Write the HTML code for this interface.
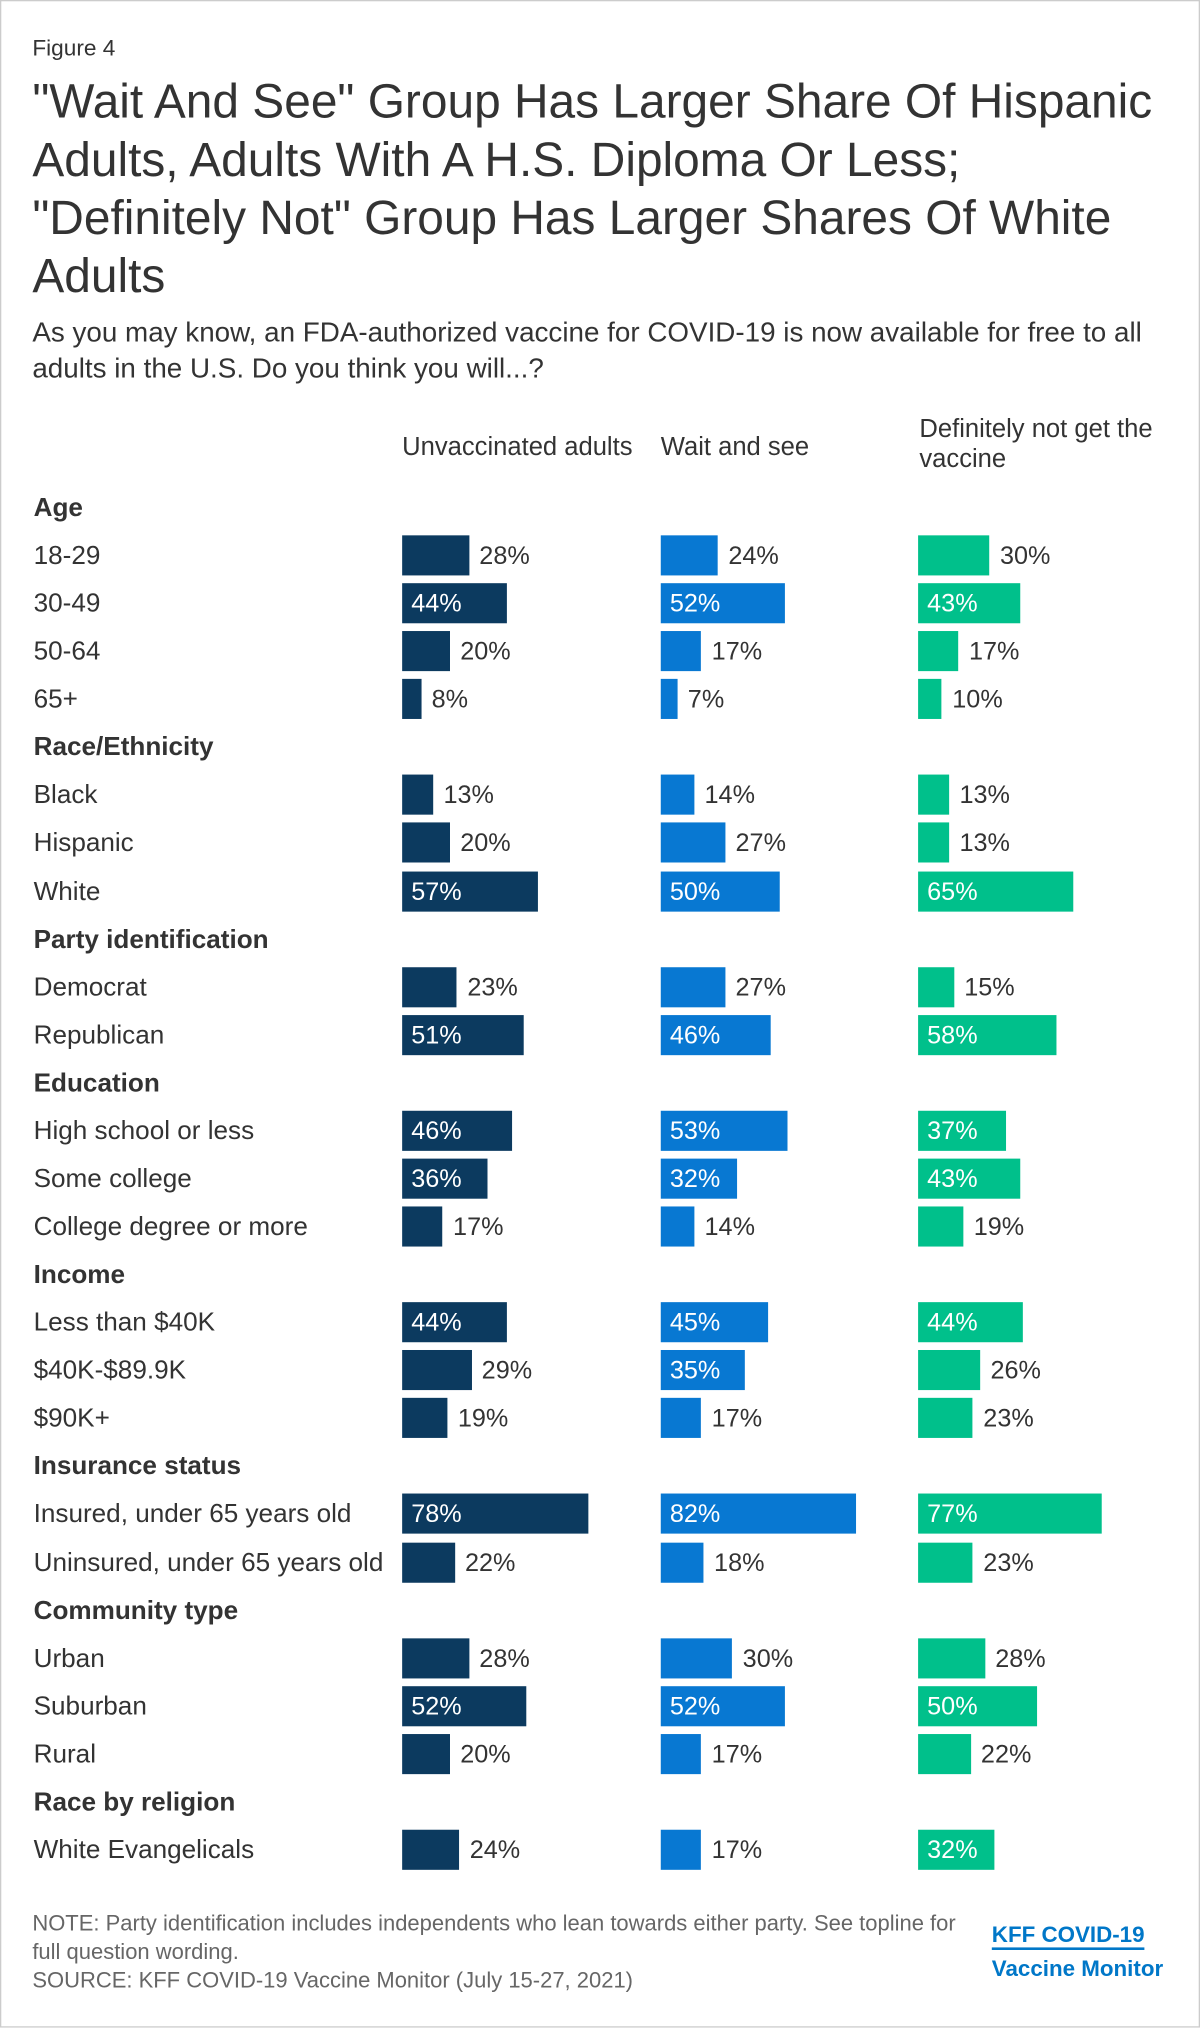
<!DOCTYPE html>
<html><head><meta charset="utf-8"><style>
html,body{margin:0;padding:0;background:#fff;}
body{width:1200px;height:2028px;overflow:hidden;}
#wrap{position:absolute;left:0;top:0;width:928px;height:1568px;transform:scale(1.29310);transform-origin:0 0;font-family:"Liberation Sans",Arial,sans-serif;color:#333;}
#frame{position:absolute;left:0;top:0;width:926px;height:1566px;border:1px solid #ccc;}
.t{position:absolute;white-space:nowrap;line-height:24px;}
.bar{position:absolute;height:31px;}
</style></head><body>
<div id="wrap">
<div id="frame"></div>
<div class="t" style="left:25px;top:25px;font-size:17.5px">Figure 4</div>
<div class="t" style="left:25px;top:56px;font-size:37px;line-height:45px">"Wait And See" Group Has Larger Share Of Hispanic<br>Adults, Adults With A H.S. Diploma Or Less;<br>"Definitely Not" Group Has Larger Shares Of White<br>Adults</div>
<div class="t" style="left:25px;top:243px;font-size:21.5px;line-height:28px">As you may know, an FDA-authorized vaccine for COVID-19 is now available for free to all<br>adults in the U.S. Do you think you will...?</div>
<div class="t" style="left:311px;top:334px;font-size:19.8px">Unvaccinated adults</div>
<div class="t" style="left:511px;top:334px;font-size:19.8px">Wait and see</div>
<div class="t" style="left:711px;top:321px;font-size:19.8px;line-height:23px">Definitely not get the<br>vaccine</div>
<div id="rows"></div>
<div class="t" style="left:25px;top:1477px;font-size:17px;line-height:22px;color:#666">NOTE: Party identification includes independents who lean towards either party. See topline for<br>full question wording.<br>SOURCE: KFF COVID-19 Vaccine Monitor (July 15-27, 2021)</div>
<div class="t" style="left:767px;top:1483px;font-size:17.3px;font-weight:bold;color:#0077c8;line-height:26px"><span style="border-bottom:2px solid #0077c8">KFF COVID-19</span><br>Vaccine Monitor</div>
</div>
<script>
const categories=["Age","18-29","30-49","50-64","65+","Race/Ethnicity","Black","Hispanic","White","Party identification","Democrat","Republican","Education","High school or less","Some college","College degree or more","Income","Less than $40K","$40K-$89.9K","$90K+","Insurance status","Insured, under 65 years old","Uninsured, under 65 years old","Community type","Urban","Suburban","Rural","Race by religion","White Evangelicals"];
const unvaccinated=[null,28,44,20,8,null,13,20,57,null,23,51,null,46,36,17,null,44,29,19,null,78,22,null,28,52,20,null,24];
const waitAndSee=[null,24,52,17,7,null,14,27,50,null,27,46,null,53,32,14,null,45,35,17,null,82,18,null,30,52,17,null,17];
const definitelyNot=[null,30,43,17,10,null,13,13,65,null,15,58,null,37,43,19,null,44,26,23,null,77,23,null,28,50,22,null,32];
const series=[{v:unvaccinated,x0:311,c:"#0c3a5f",n:"unvaccinated"},{v:waitAndSee,x0:511,c:"#0878d2",n:"wait-and-see"},{v:definitelyNot,x0:710,c:"#00c08b",n:"definitely-not"}];
const root=document.getElementById('rows');
const yPos=i=>393+i*37.07;
const xLen=v=>v*1.845;
categories.forEach((cat,i)=>{
  const y=yPos(i);
  const isHeader=unvaccinated[i]===null;
  const lab=document.createElement('div');
  lab.className='t';
  lab.style.cssText=`left:26px;top:${y-12}px;font-size:20.2px;${isHeader?'font-weight:bold;':''}`;
  lab.textContent=cat;
  
  
  root.appendChild(lab);
  if(isHeader) return;
  series.forEach(s=>{
    const v=s.v[i];
    const b=document.createElement('div');
    b.className='bar';
    b.style.cssText=`left:${s.x0}px;top:${y-16}px;width:${xLen(v)}px;background:${s.c}`;
    
    
    root.appendChild(b);
    const t=document.createElement('div');
    t.className='t';
    const inside=v>=31;
    t.style.cssText=`left:${inside?s.x0+7:s.x0+xLen(v)+8}px;top:${y-12}px;font-size:19.5px;color:${inside?'#fff':'#333'}`;
    t.textContent=v+'%';
    
    
    root.appendChild(t);
  });
});
</script>
</body></html>
